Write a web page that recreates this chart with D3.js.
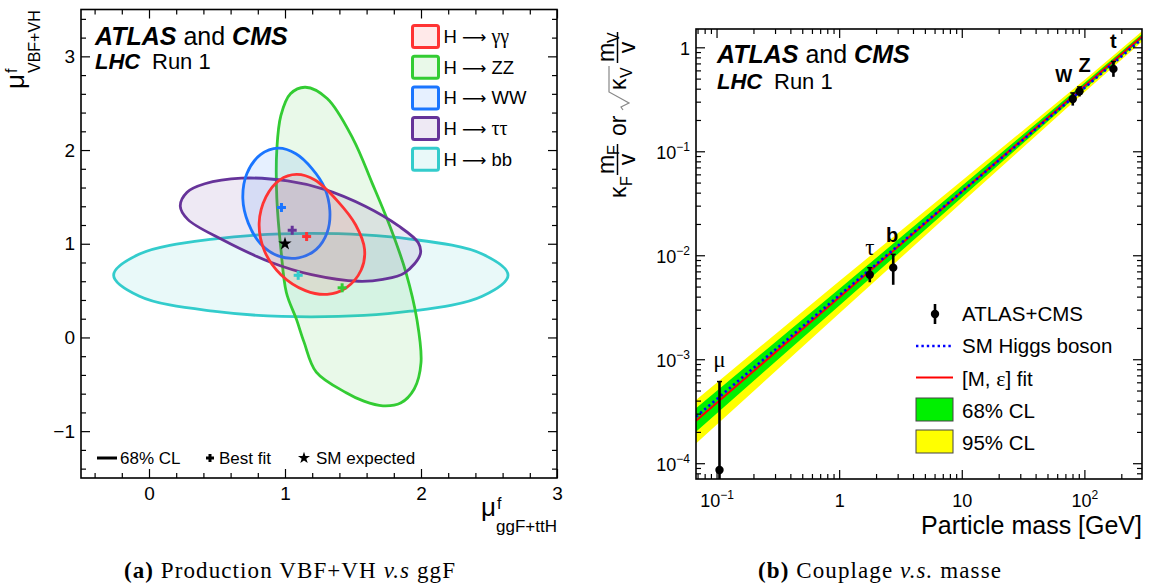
<!DOCTYPE html>
<html><head><meta charset="utf-8">
<script src="https://cdn.jsdelivr.net/npm/d3@7"></script>
<style>
body{margin:0;background:#fff}
svg{display:block}
text{font-family:"Liberation Sans",Arial,Helvetica,sans-serif;fill:#000}
</style></head>
<body><svg id="c" width="1154" height="585"></svg>
<script>
// ---------- Panel (a) data ----------
const channelFinal = ["\u03b3\u03b3","ZZ","WW","\u03c4\u03c4","bb"];
const channelGreek = [true,false,false,true,false];
const channelColors = ["#ff3333","#33cc33","#1a75ff","#663399","#33cccc"];
const contourGammaGamma = [[1.085,1.74],[1.22,1.68],[1.39,1.45],[1.52,1.20],[1.585,0.94],[1.56,0.72],[1.45,0.53],[1.31,0.46],[1.15,0.50],[0.97,0.67],[0.85,0.92],[0.81,1.22],[0.86,1.50],[0.96,1.68]];
const contourZZ = [[1.15,2.67],[1.31,2.55],[1.50,2.12],[1.64,1.65],[1.78,1.155],[1.89,0.69],[1.97,0.19],[2.0,-0.27],[1.95,-0.55],[1.85,-0.70],[1.72,-0.73],[1.58,-0.68],[1.45,-0.59],[1.23,-0.37],[1.14,-0.05],[1.085,0.19],[1.01,0.48],[0.97,0.94],[0.94,1.48],[0.94,2.01],[0.97,2.37],[1.04,2.60]];
const contourWW = [[0.95,2.02],[1.08,1.96],[1.20,1.80],[1.29,1.60],[1.33,1.35],[1.31,1.12],[1.23,0.94],[1.10,0.85],[0.95,0.87],[0.82,1.0],[0.73,1.22],[0.69,1.48],[0.72,1.75],[0.82,1.95]];
const contourTauTau = [[0.23,1.40],[0.28,1.55],[0.41,1.64],[0.68,1.70],[1.02,1.67],[1.29,1.58],[1.59,1.40],[1.835,1.19],[1.98,1.01],[1.995,0.89],[1.88,0.69],[1.72,0.62],[1.54,0.60],[1.195,0.67],[0.90,0.80],[0.53,1.05],[0.285,1.26]];
const contourBB = [[2.64,0.665],[2.45,0.89],[1.92,1.05],[1.19,1.11],[0.47,1.05],[-0.07,0.89],[-0.26,0.665],[-0.07,0.44],[0.47,0.28],[1.19,0.22],[1.92,0.28],[2.45,0.44]];
const bestFitX = [1.159,1.42,0.974,1.053,1.097];
const bestFitY = [1.077,0.53,1.387,1.144,0.663];
const smExpected = [1.0,1.0];
const xTicksA = [0,1,2,3];
const yTicksA = [-1,0,1,2,3];

// ---------- Panel (b) data ----------
const particles = ["\u03bc","\u03c4","b","W","Z","t"];
const particleMass = [0.1057,1.777,2.76,80.4,91.2,172.5];
const coupling = [8.6e-5,6.5e-3,7.6e-3,0.318,0.377,0.62];
const couplingLow = [1e-5,5.5e-3,5.2e-3,0.275,0.337,0.52];
const couplingHigh = [6.1e-4,7.6e-3,1.02e-2,0.364,0.416,0.73];
const bandMass = [0.068,1,10,100,295];
const band95Low = [1.55e-4,2.75e-3,0.0321,0.369,1.132];
const band68Low = [2.01e-4,3.27e-3,0.036,0.395,1.2];
const band68High = [3.38e-4,4.73e-3,0.0463,0.454,1.346];
const band95High = [4.06e-4,5.62e-3,0.052,0.486,1.426];
const lineMass = [0.068,295];
const fitValue = [2.56e-4,1.27];
const smValue = [2.8e-4,1.2];
const xTicksB = [0.1,1,10,100];
const yTicksB = [1e-4,1e-3,1e-2,1e-1,1];

const svg = d3.select("#c");
const FONT = '"Liberation Sans",Arial,Helvetica,sans-serif';
const SERIF = '"Liberation Serif","DejaVu Serif",serif';

// ================= Panel (a) =================
const A = {l:81,r:557,t:9.5,b:478};
const xA = d3.scaleLinear().domain([-0.5,3]).range([A.l,A.r]);
const yA = d3.scaleLinear().domain([-1.5,3.5]).range([A.b,A.t]);
const gA = svg.append("g");

const contours = [contourGammaGamma,contourZZ,contourWW,contourTauTau,contourBB];
const drawOrder = [4,1,3,2,0];
const closed = d3.line().x(d=>xA(d[0])).y(d=>yA(d[1])).curve(d3.curveCatmullRomClosed.alpha(0.5));
drawOrder.forEach(i=>{
  gA.append("path").attr("d",closed(contours[i]))
    .attr("fill",channelColors[i]).attr("fill-opacity",0.11)
    .attr("stroke",channelColors[i]).attr("stroke-width",2.8);
});
function cross(g,cx,cy,h,color,w){
  g.append("line").attr("x1",cx-h).attr("x2",cx+h).attr("y1",cy).attr("y2",cy).attr("stroke",color).attr("stroke-width",w);
  g.append("line").attr("x1",cx).attr("x2",cx).attr("y1",cy-h).attr("y2",cy+h).attr("stroke",color).attr("stroke-width",w);
}
bestFitX.forEach((bx,i)=>cross(gA,xA(bx),yA(bestFitY[i]),4.5,channelColors[i],3));
gA.append("path").attr("d",d3.symbol(d3.symbolStar,55)())
  .attr("transform",`translate(${xA(smExpected[0])},${yA(smExpected[1])})`).attr("fill","#000");

function styleAxis(g,fs){ g.select(".domain").remove(); g.selectAll("line").attr("stroke","#000").attr("stroke-width",1.2);
  g.selectAll("text").style("font-family",FONT).attr("font-size",fs).attr("fill","#000"); }
const xMinorA = d3.range(-0.4,3.0001,0.2).map(v=>+v.toFixed(2)).filter(v=>Math.abs(v-Math.round(v))>1e-6);
const yMinorA = d3.range(-1.4,3.5001,0.2).map(v=>+v.toFixed(2)).filter(v=>Math.abs(v-Math.round(v))>1e-6);
const fmtA = d=> d<0 ? "\u2212"+(-d) : String(d);
gA.append("g").attr("transform",`translate(0,${A.b})`).call(d3.axisBottom(xA).tickValues(xTicksA).tickFormat(fmtA).tickSizeInner(-9).tickSizeOuter(0).tickPadding(9)).call(g=>styleAxis(g,19));
gA.append("g").attr("transform",`translate(0,${A.b})`).call(d3.axisBottom(xA).tickValues(xMinorA).tickFormat("").tickSizeInner(-5).tickSizeOuter(0)).call(g=>styleAxis(g,19));
gA.append("g").attr("transform",`translate(0,${A.t})`).call(d3.axisTop(xA).tickValues(xTicksA).tickFormat("").tickSizeInner(-9).tickSizeOuter(0)).call(g=>styleAxis(g,19));
gA.append("g").attr("transform",`translate(0,${A.t})`).call(d3.axisTop(xA).tickValues(xMinorA).tickFormat("").tickSizeInner(-5).tickSizeOuter(0)).call(g=>styleAxis(g,19));
gA.append("g").attr("transform",`translate(${A.l},0)`).call(d3.axisLeft(yA).tickValues(yTicksA).tickFormat(fmtA).tickSizeInner(-9).tickSizeOuter(0).tickPadding(6)).call(g=>styleAxis(g,19));
gA.append("g").attr("transform",`translate(${A.l},0)`).call(d3.axisLeft(yA).tickValues(yMinorA).tickFormat("").tickSizeInner(-5).tickSizeOuter(0)).call(g=>styleAxis(g,19));
gA.append("g").attr("transform",`translate(${A.r},0)`).call(d3.axisRight(yA).tickValues(yTicksA).tickFormat("").tickSizeInner(-9).tickSizeOuter(0)).call(g=>styleAxis(g,19));
gA.append("g").attr("transform",`translate(${A.r},0)`).call(d3.axisRight(yA).tickValues(yMinorA).tickFormat("").tickSizeInner(-5).tickSizeOuter(0)).call(g=>styleAxis(g,19));
gA.append("rect").attr("x",A.l).attr("y",A.t).attr("width",A.r-A.l).attr("height",A.b-A.t).attr("fill","none").attr("stroke","#000").attr("stroke-width",1.6);

function atlasTitle(g,x,y1,y2){
  const t=g.append("text").attr("x",x).attr("y",y1).attr("font-size",25);
  t.append("tspan").attr("font-weight","bold").attr("font-style","italic").text("ATLAS");
  t.append("tspan").text(" and ");
  t.append("tspan").attr("font-weight","bold").attr("font-style","italic").text("CMS");
  g.append("text").attr("x",x).attr("y",y2).attr("font-size",22).attr("font-weight","bold").attr("font-style","italic").text("LHC");
  g.append("text").attr("x",x+57).attr("y",y2).attr("font-size",22).text("Run 1");
}
atlasTitle(gA,95,44.5,69);

// legend (a)
channelFinal.forEach((n,i)=>{
  const cy = 36.5 + i*30.7;
  gA.append("rect").attr("x",412.5).attr("y",cy-11).attr("width",26).attr("height",22).attr("rx",2)
    .attr("fill",channelColors[i]).attr("fill-opacity",0.11).attr("stroke",channelColors[i]).attr("stroke-width",3);
  const t = gA.append("text").attr("x",443.5).attr("y",cy+6.5).attr("font-size",18.5);
  t.append("tspan").text("H ");
  t.append("tspan").style("font-family",'"DejaVu Sans",sans-serif').attr("font-size",17).text("\u27f6");
  const last = t.append("tspan").text(" " + n);
  if(channelGreek[i]) last.style("font-family",SERIF).attr("font-size",20);
});
// bottom legend
gA.append("line").attr("x1",97).attr("x2",117).attr("y1",458).attr("y2",458).attr("stroke","#000").attr("stroke-width",3);
gA.append("text").attr("x",120).attr("y",464).attr("font-size",17).text("68% CL");
cross(gA,210,458,4,"#000",3);
gA.append("text").attr("x",219).attr("y",464).attr("font-size",17).text("Best fit");
gA.append("path").attr("d",d3.symbol(d3.symbolStar,45)()).attr("transform","translate(304,458)").attr("fill","#000");
gA.append("text").attr("x",316).attr("y",464).attr("font-size",17).text("SM expected");

// axis titles (a)
const xt = gA.append("g");
xt.append("text").attr("x",481).attr("y",516).attr("font-size",26).text("\u03bc");
xt.append("text").attr("x",497).attr("y",509).attr("font-size",16).text("f");
xt.append("text").attr("x",557).attr("y",532).attr("font-size",17).attr("text-anchor","end").text("ggF+ttH");
const yt = gA.append("g").attr("transform","translate(24,89) rotate(-90)");
yt.append("text").attr("x",0).attr("y",0).attr("font-size",26).text("\u03bc");
yt.append("text").attr("x",16).attr("y",-7).attr("font-size",16).text("f");
yt.append("text").attr("x",16).attr("y",16).attr("font-size",16).text("VBF+VH");

// caption (a)
const capA = svg.append("text").attr("x",290).attr("y",578).attr("text-anchor","middle")
  .style("font-family",SERIF).attr("font-size",23).attr("letter-spacing",1.1);
capA.append("tspan").attr("font-weight","bold").text("(a)");
capA.append("tspan").text(" Production VBF+VH ");
capA.append("tspan").attr("font-style","italic").text("v.s");
capA.append("tspan").text(" ggF");

// ================= Panel (b) =================
const B = {l:696,r:1142,t:29,b:479};
const xB = d3.scaleLog().domain([0.068,295]).range([B.l,B.r]);
const yB = d3.scaleLog().domain([7.05e-5,1.5]).range([B.b,B.t]);
const gB = svg.append("g");
svg.append("defs").append("clipPath").attr("id","clipB").append("rect")
  .attr("x",B.l).attr("y",B.t).attr("width",B.r-B.l).attr("height",B.b-B.t);
const plotB = gB.append("g").attr("clip-path","url(#clipB)");

const area95 = d3.area().x((d,i)=>xB(bandMass[i])).y0((d,i)=>yB(band95Low[i])).y1((d,i)=>yB(band95High[i]));
const area68 = d3.area().x((d,i)=>xB(bandMass[i])).y0((d,i)=>yB(band68Low[i])).y1((d,i)=>yB(band68High[i]));
plotB.append("path").attr("d",area95(bandMass)).attr("fill","#ffff00");
plotB.append("path").attr("d",area68(bandMass)).attr("fill","#00f000");
const lineB = d3.line().x((d,i)=>xB(lineMass[i])).y(d=>yB(d));
plotB.append("path").attr("d",lineB(fitValue)).attr("stroke","#ff0000").attr("stroke-width",2).attr("fill","none");
plotB.append("path").attr("d",lineB(smValue)).attr("stroke","#0000ff").attr("stroke-width",2.6).attr("stroke-dasharray","2.4,3").attr("fill","none");

particles.forEach((p,i)=>{
  const x = xB(particleMass[i]);
  plotB.append("line").attr("x1",x).attr("x2",x).attr("y1",yB(couplingLow[i])).attr("y2",yB(couplingHigh[i])).attr("stroke","#000").attr("stroke-width",2.6);
  plotB.append("line").attr("x1",x-2.5).attr("x2",x+2.5).attr("y1",yB(couplingHigh[i])).attr("y2",yB(couplingHigh[i])).attr("stroke","#000").attr("stroke-width",1.5);
  plotB.append("circle").attr("cx",x).attr("cy",yB(coupling[i])).attr("r",4.2).attr("fill","#000");
});
const labelDX = [0,0,-1,-9,5,0];
const labelDY = [-15,-13,-12.5,-11,-15,-13.5];
const labelBold = [false,false,true,true,true,true];
particles.forEach((p,i)=>{
  const t = gB.append("text").attr("x",xB(particleMass[i])+labelDX[i]).attr("y",yB(couplingHigh[i])+labelDY[i])
    .attr("text-anchor","middle").attr("font-weight",labelBold[i]?"bold":"normal").text(p);
  if(i<2) t.style("font-family",SERIF).attr("font-size",23); else t.attr("font-size",i===3?18:20);
});

function minorLog(dom){ const out=[]; for(let e=-6;e<=3;e++){ for(let k=2;k<=9;k++){ const v=k*Math.pow(10,e); if(v>=dom[0]&&v<=dom[1]) out.push(v);} } return out; }
const xMinorB = minorLog(xB.domain());
const yMinorB = minorLog(yB.domain());
function powLabel(sel){
  sel.each(function(d){
    const e = Math.round(Math.log10(d));
    const t = d3.select(this); t.text(null);
    if(e===0){ t.append("tspan").text("1"); }
    else if(e===1){ t.append("tspan").text("10"); }
    else { t.append("tspan").text("10"); t.append("tspan").attr("dy",-8).attr("font-size",12).text(e<0?"\u2212"+(-e):String(e)); }
  });
}
gB.append("g").attr("transform",`translate(0,${B.b})`).call(d3.axisBottom(xB).tickValues(xTicksB).tickSizeInner(-9).tickSizeOuter(0).tickPadding(14)).call(g=>{styleAxis(g,18); g.selectAll("text").attr("dy",null).attr("y",28).call(powLabel);});
gB.append("g").attr("transform",`translate(0,${B.b})`).call(d3.axisBottom(xB).tickValues(xMinorB).tickFormat("").tickSizeInner(-5).tickSizeOuter(0)).call(g=>styleAxis(g,18));
gB.append("g").attr("transform",`translate(0,${B.t})`).call(d3.axisTop(xB).tickValues(xTicksB).tickFormat("").tickSizeInner(-9).tickSizeOuter(0)).call(g=>styleAxis(g,18));
gB.append("g").attr("transform",`translate(0,${B.t})`).call(d3.axisTop(xB).tickValues(xMinorB).tickFormat("").tickSizeInner(-5).tickSizeOuter(0)).call(g=>styleAxis(g,18));
gB.append("g").attr("transform",`translate(${B.l},0)`).call(d3.axisLeft(yB).tickValues(yTicksB).tickSizeInner(-9).tickSizeOuter(0).tickPadding(6)).call(g=>{styleAxis(g,18); g.selectAll("text").attr("dy","0.4em").call(powLabel);});
gB.append("g").attr("transform",`translate(${B.l},0)`).call(d3.axisLeft(yB).tickValues(yMinorB).tickFormat("").tickSizeInner(-5).tickSizeOuter(0)).call(g=>styleAxis(g,18));
gB.append("g").attr("transform",`translate(${B.r},0)`).call(d3.axisRight(yB).tickValues(yTicksB).tickFormat("").tickSizeInner(-9).tickSizeOuter(0)).call(g=>styleAxis(g,18));
gB.append("g").attr("transform",`translate(${B.r},0)`).call(d3.axisRight(yB).tickValues(yMinorB).tickFormat("").tickSizeInner(-5).tickSizeOuter(0)).call(g=>styleAxis(g,18));
gB.append("rect").attr("x",B.l).attr("y",B.t).attr("width",B.r-B.l).attr("height",B.b-B.t).attr("fill","none").attr("stroke","#000").attr("stroke-width",1.6);

atlasTitle(gB,717,63,89);

// legend (b)
gB.append("line").attr("x1",935).attr("x2",935).attr("y1",304).attr("y2",324).attr("stroke","#000").attr("stroke-width",2.6);
gB.append("circle").attr("cx",935).attr("cy",314).attr("r",4.2).attr("fill","#000");
gB.append("text").attr("x",962).attr("y",321).attr("font-size",20.5).text("ATLAS+CMS");
gB.append("line").attr("x1",916).attr("x2",953).attr("y1",346).attr("y2",346).attr("stroke","#0000ff").attr("stroke-width",2.6).attr("stroke-dasharray","2.4,3");
gB.append("text").attr("x",962).attr("y",353).attr("font-size",20.5).text("SM Higgs boson");
gB.append("line").attr("x1",916).attr("x2",953).attr("y1",377.5).attr("y2",377.5).attr("stroke","#ff0000").attr("stroke-width",2.2);
const fitT = gB.append("text").attr("x",962).attr("y",386).attr("font-size",20.5);
fitT.append("tspan").text("[M, ");
fitT.append("tspan").style("font-family",SERIF).attr("font-size",22).text("\u03b5");
fitT.append("tspan").text("] fit");
gB.append("rect").attr("x",916).attr("y",398).attr("width",37).attr("height",23).attr("fill","#00f000").attr("stroke","#444").attr("stroke-width",1);
gB.append("text").attr("x",962).attr("y",418).attr("font-size",20.5).text("68% CL");
gB.append("rect").attr("x",916).attr("y",430).attr("width",37).attr("height",23).attr("fill","#ffff00").attr("stroke","#444").attr("stroke-width",1);
gB.append("text").attr("x",962).attr("y",450).attr("font-size",20.5).text("95% CL");

// axis titles (b)
gB.append("text").attr("x",1142).attr("y",534).attr("text-anchor","end").attr("font-size",25).text("Particle mass [GeV]");
const yl = gB.append("g").attr("transform","translate(626,198) rotate(-90)");
yl.append("text").attr("x",0).attr("y",0).attr("font-size",23).text("\u03ba");
yl.append("text").attr("x",12).attr("y",6).attr("font-size",16).text("F");
yl.append("text").attr("x",24).attr("y",-12).attr("font-size",23).text("m");
yl.append("text").attr("x",43).attr("y",-7).attr("font-size",16).text("F");
yl.append("line").attr("x1",23).attr("x2",54).attr("y1",-8.5).attr("y2",-8.5).attr("stroke","#000").attr("stroke-width",1.5);
yl.append("text").attr("x",38.5).attr("y",9).attr("text-anchor","middle").attr("font-size",23).text("v");
yl.append("text").attr("x",62).attr("y",0).attr("font-size",23).text("or");
yl.append("path").attr("d","M88,-3 L91,-5 L95,3 L106,-17 L132,-17").attr("fill","none").attr("stroke","#888").attr("stroke-width",1.2);
yl.append("text").attr("x",108).attr("y",0).attr("font-size",23).text("\u03ba");
yl.append("text").attr("x",120).attr("y",6).attr("font-size",16).text("V");
yl.append("text").attr("x",136).attr("y",-12).attr("font-size",23).text("m");
yl.append("text").attr("x",155).attr("y",-7).attr("font-size",16).text("V");
yl.append("line").attr("x1",135).attr("x2",166).attr("y1",-8.5).attr("y2",-8.5).attr("stroke","#000").attr("stroke-width",1.5);
yl.append("text").attr("x",150.5).attr("y",9).attr("text-anchor","middle").attr("font-size",23).text("v");

// caption (b)
const capB = svg.append("text").attr("x",880).attr("y",578).attr("text-anchor","middle")
  .style("font-family",SERIF).attr("font-size",23).attr("letter-spacing",1.1);
capB.append("tspan").attr("font-weight","bold").text("(b)");
capB.append("tspan").text(" Couplage ");
capB.append("tspan").attr("font-style","italic").text("v.s.");
capB.append("tspan").text(" masse");
</script></body></html>
